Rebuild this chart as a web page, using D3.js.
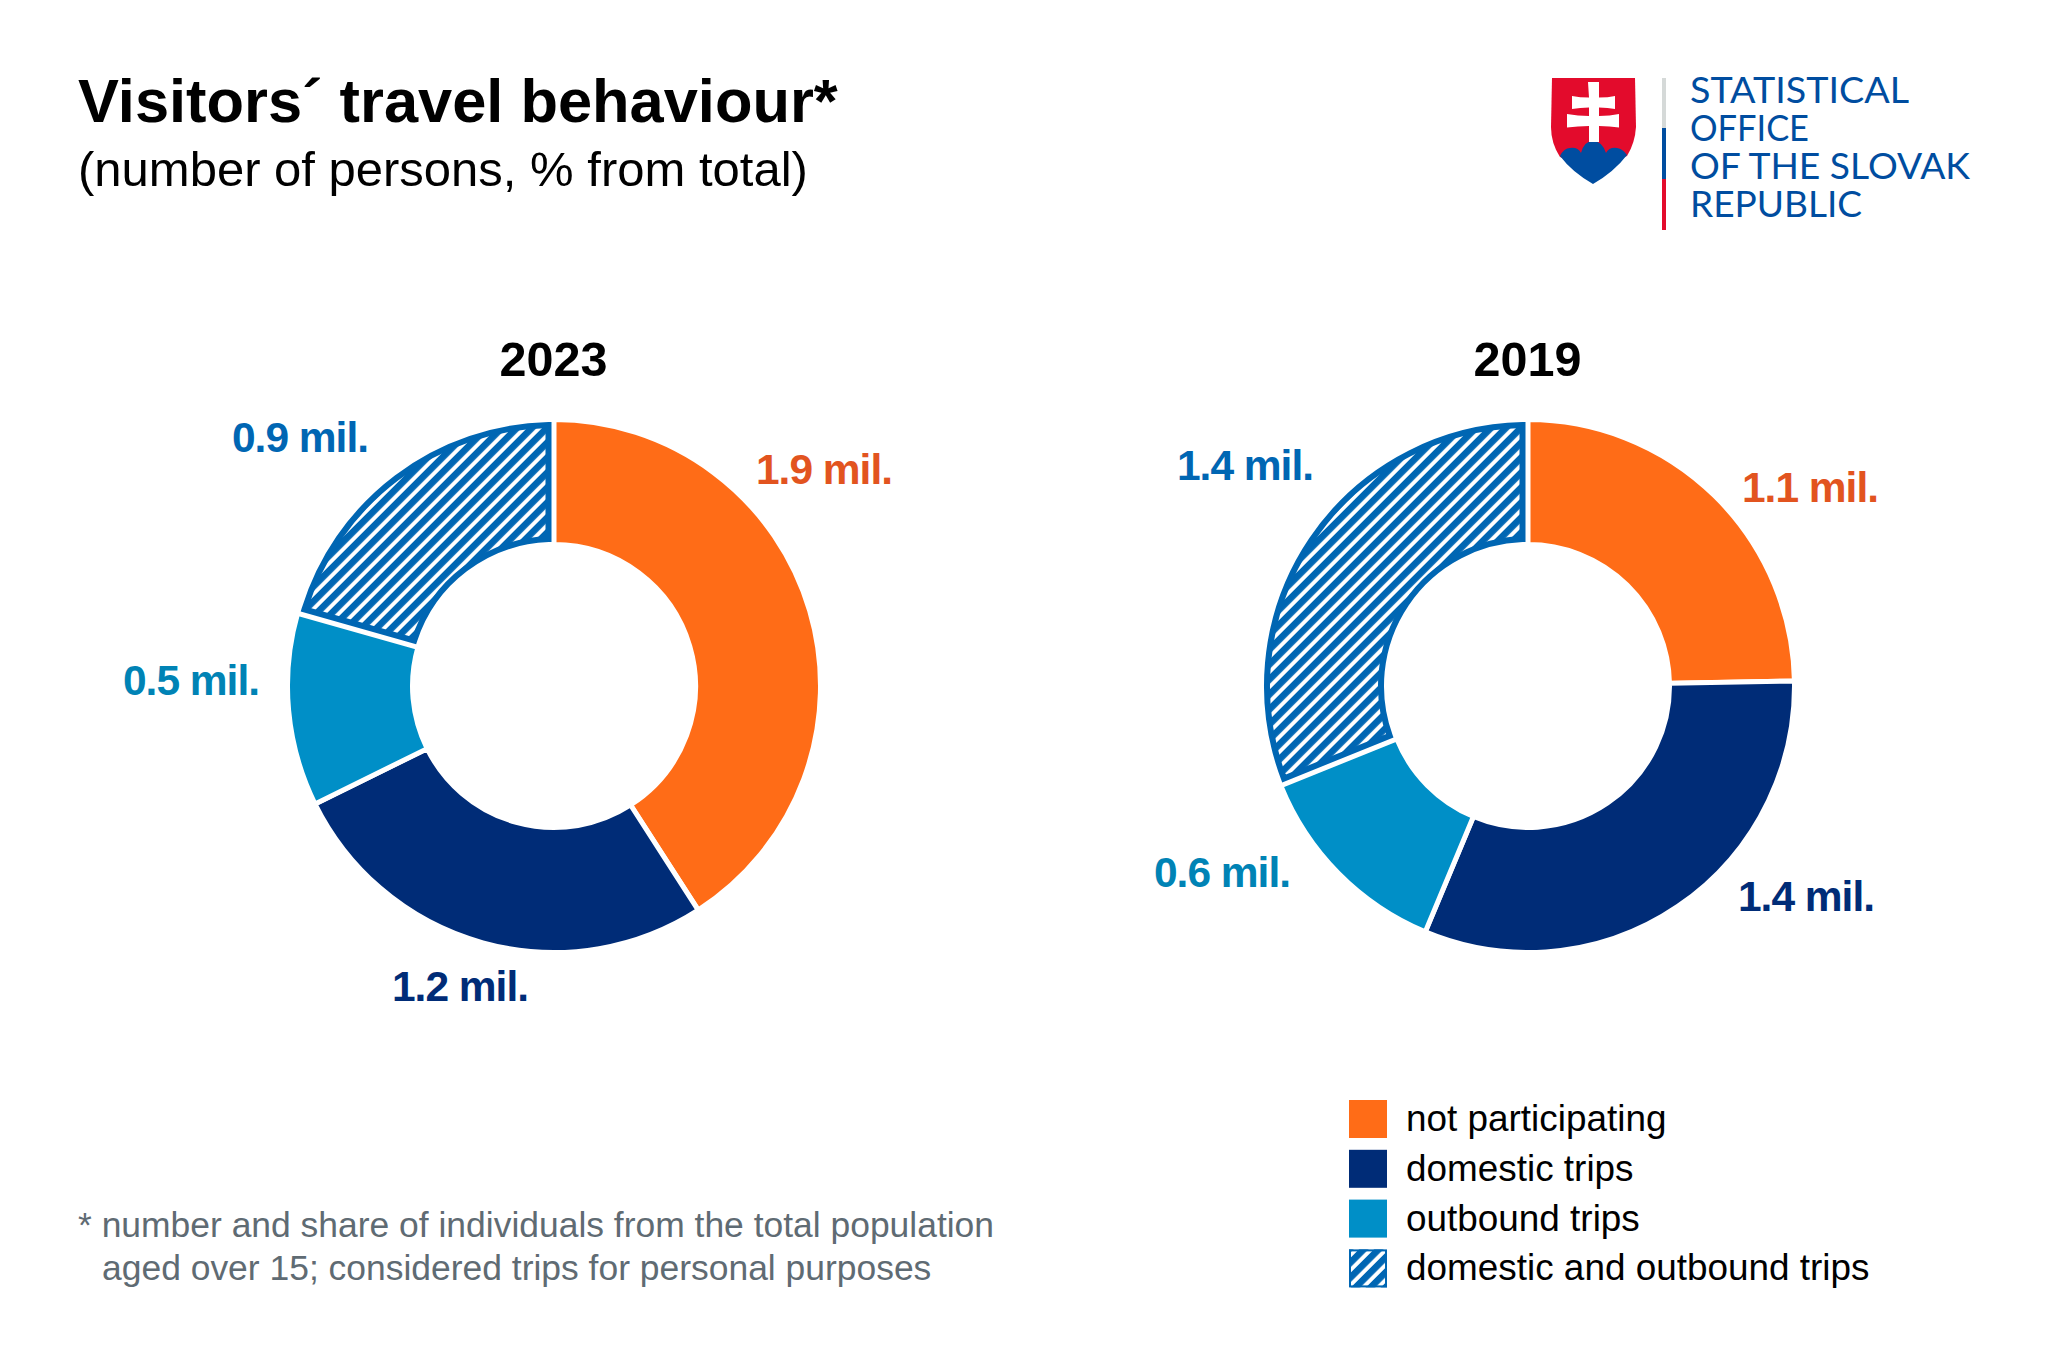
<!DOCTYPE html>
<html><head><meta charset="utf-8">
<script src="https://cdn.jsdelivr.net/npm/d3@7"></script>
<style>html,body{margin:0;padding:0;background:#fff}svg{display:block}</style>
</head><body><svg id="c" width="2048" height="1365"></svg>
<script>
const categories = ["not participating","domestic trips","outbound trips","domestic and outbound trips"];
const years = ["2023","2019"];
const shares2023 = [40.9,26.8,11.7,20.6];
const shares2019 = [24.7,31.6,12.6,31.1];
const labels2023 = ["1.9 mil.","1.2 mil.","0.5 mil.","0.9 mil."];
const labels2019 = ["1.1 mil.","1.4 mil.","0.6 mil.","1.4 mil."];
const logoLines = ["STATISTICAL","OFFICE","OF THE SLOVAK","REPUBLIC"];
const footnoteLines = ["* number and share of individuals from the total population","aged over 15; considered trips for personal purposes"];

// layout and style, separate from the data
const fills = ["#ff6c17","#002c77","#008fc7","url(#hatch)"];
const labelColors = ["#e2541f","#002c77","#0083b5","#0066b3"];
const centers = [554,1528];
const labelPos = [
  [[824,470],[460,987],[191,681],[300,438]],
  [[1810,488],[1806,897],[1222,873],[1245,466]]
];
const logoWidths = [219,119,280,172];
const logoBase = [103,141,179,217];
const SANS = "'Liberation Sans',Arial,sans-serif";
const svg = d3.select("#c");

const defs = svg.append("defs");
const P=10.6, B=6.6;
const pat = defs.append("pattern").attr("id","hatch").attr("patternUnits","userSpaceOnUse")
  .attr("width",P).attr("height",P).attr("patternTransform","rotate(45)");
pat.append("rect").attr("width",P).attr("height",P).attr("fill","#fff");
pat.append("rect").attr("width",B).attr("height",P).attr("fill","#0066b3");

function text(x,y,s,size,opt={}){
  return svg.append("text").attr("x",x).attr("y",y).text(s)
    .attr("font-family",opt.family||SANS).attr("font-size",size)
    .attr("font-weight",opt.weight||"normal").attr("fill",opt.fill||"#000")
    .attr("text-anchor",opt.anchor||"start")
    .attr("letter-spacing",opt.ls||0);
}

text(78,122,"Visitors´ travel behaviour*",61.4,{weight:"bold"});
text(78,186,"(number of persons, % from total)",49);

// logo
const logo = svg.append("g");
logo.append("path").attr("fill","#e30b2c")
  .attr("d","M1552 78 H1635 L1636 127 Q1635 143 1627 156 L1593 170 L1560 157 Q1551 143 1551 127Z");
logo.append("path").attr("fill","#004da0")
  .attr("d","M1560 156 Q1564 148 1570 148 Q1578 147 1581 153 Q1584 141 1593 141 Q1602 141 1606 153 Q1609 147 1617 148 Q1623 149 1627 155 Q1614 172 1593 184 Q1572 172 1560 156Z");
logo.append("path").attr("fill","#fff")
  .attr("d","M1588 82 H1599 V97.5 Q1608 97.5 1615 96 V109 Q1608 107.5 1599 107.5 V116 Q1610 116 1619 114 V127.5 Q1610 126 1599 126 V142 H1589 V126 Q1578 126 1567 127.5 V114 Q1578 116 1589 116 V107.5 Q1580 107.5 1572 109 V96 Q1580 97.5 1589 97.5Z");
[["#d5d9d8",78,128],["#004da0",128,179],["#e30b2c",179,230]].forEach(d=>{
  logo.append("rect").attr("x",1662).attr("y",d[1]).attr("width",4).attr("height",d[2]-d[1]).attr("fill",d[0]);
});
logoLines.forEach((s,i)=>text(1690,logoBase[i],s,36,{family:"Lato",fill:"#004da0"})
  .attr("textLength",logoWidths[i]).attr("lengthAdjust","spacingAndGlyphs"));

// donuts
const R=264, r=144, gap=5, border=6, cy=686;
const pie=d3.pie().sort(null).value(d=>d);
const arc=d3.arc().innerRadius(r-gap/2).outerRadius(R+gap/2);
const hatchPad=gap/2+border/2;
const hatchArc=d3.arc().innerRadius(r+border/2).outerRadius(R-border/2).padRadius(200);

[shares2023,shares2019].forEach((vals,k)=>{
  const g=svg.append("g").attr("transform",`translate(${centers[k]},${cy})`);
  pie(vals).forEach((d,i)=>{
    if(i===3){
      g.append("path").attr("d",hatchArc({...d,padAngle:2*hatchPad/200}))
        .attr("fill",fills[i]).attr("stroke","#0066b3").attr("stroke-width",border).attr("stroke-linejoin","miter");
    } else {
      g.append("path").attr("d",arc(d)).attr("fill",fills[i]).attr("stroke","#fff").attr("stroke-width",gap);
    }
  });
  text(centers[k]-0.5,376,years[k],48.5,{weight:"bold",anchor:"middle"});
  [labels2023,labels2019][k].forEach((s,i)=>{
    text(labelPos[k][i][0],labelPos[k][i][1]+14,s,42.5,{weight:"bold",anchor:"middle",fill:labelColors[i],ls:-1});
  });
});

// legend
categories.forEach((c,i)=>{
  const y=1100+i*49.8;
  svg.append("rect").attr("x",1349).attr("y",y).attr("width",38).attr("height",38).attr("fill",fills[i]);
  text(1406,y+31,c,36.9);
});
svg.append("rect").attr("x",1350).attr("y",1250.4).attr("width",36).attr("height",36)
  .attr("fill","none").attr("stroke","#0066b3").attr("stroke-width",2);

// footnote
text(78,1237,footnoteLines[0],35.45,{fill:"#5f6b73"});
text(102,1280,footnoteLines[1],35.45,{fill:"#5f6b73"});
</script></body></html>
